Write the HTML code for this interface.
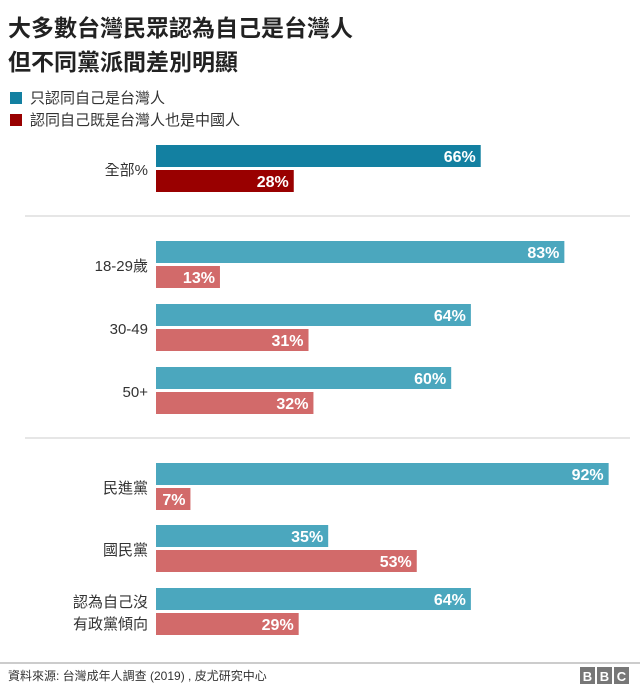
<!DOCTYPE html>
<html><head><meta charset="utf-8"><style>
body{margin:0;background:#fff;width:640px;height:691px;overflow:hidden;font-family:"Liberation Sans","Noto Sans CJK TC",sans-serif}
</style></head><body>
<svg id="c" width="640" height="691" style="font-family:'Liberation Sans','Noto Sans CJK TC',sans-serif">
<text x="8" y="36" font-size="23" font-weight="bold" fill="#222">大多數台灣民眾認為自己是台灣人</text>
<text x="8" y="70" font-size="23" font-weight="bold" fill="#222">但不同黨派間差別明顯</text>
<g>
<rect x="10" y="92" width="12" height="12" fill="#1380A1"/>
<text x="30" y="103" font-size="15" fill="#333">只認同自己是台灣人</text>
<rect x="10" y="114" width="12" height="12" fill="#990000"/>
<text x="30" y="125" font-size="15" fill="#333">認同自己既是台灣人也是中國人</text>
</g>
<line x1="25" x2="630" y1="216" y2="216" stroke="#ccc"/>
<line x1="25" x2="630" y1="438" y2="438" stroke="#ccc"/>
<line x1="0" x2="640" y1="663" y2="663" stroke="#999"/>
<text x="8" y="680" font-size="12" fill="#333">資料來源: 台灣成年人調查 (2019) , 皮尤研究中心</text>
<g>
<rect x="580" y="667" width="15" height="17" fill="#777"/><text x="587.5" y="681" font-size="13" font-weight="bold" fill="#fff" text-anchor="middle">B</text>
<rect x="597" y="667" width="15" height="17" fill="#777"/><text x="604.5" y="681" font-size="13" font-weight="bold" fill="#fff" text-anchor="middle">B</text>
<rect x="614" y="667" width="15" height="17" fill="#777"/><text x="621.5" y="681" font-size="13" font-weight="bold" fill="#fff" text-anchor="middle">C</text>
</g>
<g id="bars"></g>
</svg>
<script>
const categories=[["全部%"],["18-29歲"],["30-49"],["50+"],["民進黨"],["國民黨"],["認為自己沒","有政黨傾向"]];
const taiwanOnly=[66,83,64,60,92,35,64];
const both=[28,13,31,32,7,53,29];
const rowTops=[145,241,304,367,463,525,588];
const x0=156, pxPer=4.92, bh=22;
const xs=v=>x0+v*pxPer;
const g=document.getElementById('bars');
const NS='http://www.w3.org/2000/svg';
function mk(t,a){const e=document.createElementNS(NS,t);for(const k in a)e.setAttribute(k,a[k]);g.appendChild(e);return e;}
categories.forEach((c,i)=>{
  const y=rowTops[i];
  const dark=i===0;
  const cb=dark?'#1380A1':'#4BA7BE', cr=dark?'#990000':'#D26A6A';
  [[taiwanOnly[i],cb,y,'blue'],[both[i],cr,y+25,'red']].forEach(([v,col,yy,s])=>{
    const r=mk('rect',{x:x0,y:yy,width:xs(v)-x0,height:bh,fill:col});
    
    
    const t=mk('text',{x:xs(v)-5,y:yy+17,'font-size':16,'font-weight':'bold',fill:'#fff','text-anchor':'end'});
    t.textContent=v+'%';
    
    
  });
  const cy=y+bh+2;
  c.forEach((line,j)=>{
    const t=mk('text',{x:148,y:cy+6+(j-(c.length-1)/2)*22,'font-size':15,fill:'#333','text-anchor':'end'});
    t.textContent=line;
    
    
  });
});
</script>
</body></html>
